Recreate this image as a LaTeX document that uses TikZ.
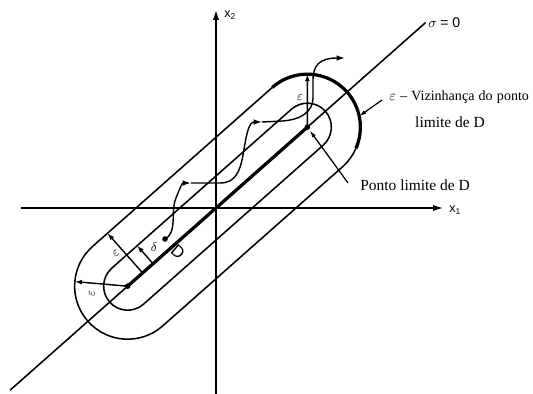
\documentclass[tikz,border=0pt]{standalone}
\usepackage{fontspec}
\setmainfont{Liberation Serif}
\setsansfont{Liberation Sans}
\usepackage{tikz}
\usetikzlibrary{arrows.meta,positioning,calc}
\tikzset{
 axisline/.style={line width=1pt, -{Latex[length=7pt,width=4.5pt]}},
 rim/.style={line width=1.1pt},
 boldrim/.style={line width=2.3pt},
 dimarrow/.style={line width=1pt, -{Latex[length=5pt,width=3.5pt]}},
 pointer/.style={line width=0.9pt, -{Latex[length=5pt,width=3pt]}},
 traj/.style={line width=1pt, -{Latex[length=6pt,width=4pt]}},
 greek/.style={font=\small, inner sep=0pt},
 axislabel/.style={font=\sffamily\fontsize{9}{10}\selectfont, inner sep=0pt},
 note/.style={font=\fontsize{11}{13}\selectfont, inner sep=0pt},
 enddot/.style={circle, fill, inner sep=0pt, minimum size=4pt}
}

\begin{document}
\begin{tikzpicture}[x=0.025cm, y=-0.025cm]
 \useasboundingbox (0,0) rectangle (533,394);
 % axes
 \coordinate (O) at (216,208);
 \coordinate (x1start) at (21,208);
 \coordinate (x1end) at (443,208);
 \coordinate (x2start) at (216,394);
 \coordinate (x2end) at (216,10);
 \draw[axisline] (x1start) -- (x1end);
 \draw[axisline] (x2start) -- (x2end);
 \node[axislabel, anchor=west] (x1) at (449,210) {x\textsubscript{1}};
 \node[axislabel, anchor=west] (x2) at (224,15) {x\textsubscript{2}};
 % switching line
 \coordinate (slow) at ($(O)+(138.5:275)$);
 \coordinate (shigh) at ($(O)+(-41.5:280)$);
 \draw[rim] (slow) -- (shigh);
 \node[anchor=west, inner sep=0pt] (sigma) at (428,23) {$\sigma$ {\sffamily = 0}};
 % neighbourhoods of D
 \begin{scope}[shift={(O)}, rotate=41.5]
  \coordinate (A) at (-118,0);
  \coordinate (B) at (122,0);
  \coordinate (P1) at (-98,0);
  \coordinate (P2) at (-84,0);
  \coordinate (E1) at (-98,-53);
  \coordinate (D1) at (-84,-24);
  \coordinate (E2) at (-154.5,-38.4);
  \coordinate (E3) at (157.1,-39.7);
  \coordinate (T) at (168.1,26.1);
  \draw[rim] (-118,-24) -- (122,-24) arc[start angle=-90, end angle=90, radius=24]
   -- (-118,24) arc[start angle=90, end angle=270, radius=24] -- cycle;
  \draw[rim] (122,53) arc[start angle=90, end angle=65, radius=53];
  \draw[rim] (122,53) -- (-118,53) arc[start angle=90, end angle=270, radius=53] -- (122,-53);
  \draw[boldrim] (122,-53) arc[start angle=-90, end angle=65, radius=53];
 \end{scope}
 \draw[boldrim] (A) -- (B);
 \node[enddot] (adot) at (A) {};
 \node[enddot] (bdot) at (B) {};
 % radii
 \draw[dimarrow] (A) -- (E2);
 \draw[dimarrow] (P1) -- (E1);
 \draw[dimarrow] (P2) -- (D1);
 \draw[dimarrow] (B) -- (E3);
 \node[greek, rotate=90] (epsa) at (92,293) {$\varepsilon$};
 \node[greek, rotate=41.5] (epsb) at (116,253) {$\varepsilon$};
 \node[greek] (epsc) at (300,98) {$\varepsilon$};
 \node[greek] (delta) at (154,247) {$\delta$};
 \node[font=\sffamily\large, inner sep=0pt, rotate=-40] (dlabel) at (178,252) {D};
 % trajectory
 \node[enddot] (start) at (165,239) {};
 \coordinate (k1) at (191,183);
 \coordinate (k2) at (262,122);
 \coordinate (k3) at (345,58);
 \draw[traj] (start.center) .. controls (178,232) and (170,212) .. (176,198)
  .. controls (180,188) and (182,183) .. (k1);
 \draw[traj] (k1) -- (220,183) .. controls (235,183) and (240,172) .. (243,155)
  .. controls (246,138) and (248,122) .. (k2);
 \draw[traj] (k2) -- (282,121) .. controls (300,120) and (313,112) .. (313,98)
  -- (313,80) .. controls (313,65) and (320,58) .. (k3);
 % notes
 \node[note, anchor=west, font=\fontsize{10}{12}\selectfont] (viz) at (389,97)
  {$\varepsilon$\hspace{3pt}--\hspace{3pt}Vizinhança\hspace{3pt}do\hspace{3pt}ponto};
 \node[note] (vizb) at (450,122) {limite de D};
 \node[note, anchor=west] (ponto) at (360,185) {Ponto limite de D};
 \coordinate (viztail) at (382,100);
 \coordinate (pontotail) at (348,183);
 \draw[pointer] (viztail) -- (T);
 \draw[pointer, shorten >=3pt] (pontotail) -- (B);
\end{tikzpicture}
\end{document}
